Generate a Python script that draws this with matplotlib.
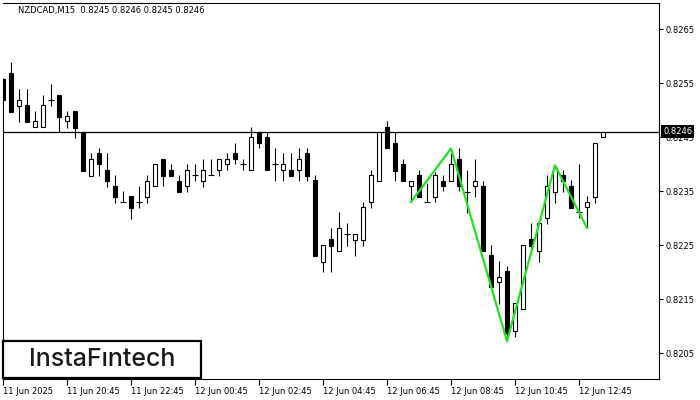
import matplotlib
matplotlib.use("Agg")
import matplotlib.pyplot as plt
import matplotlib.transforms as mtransforms
from matplotlib.patches import Rectangle

# ── Data (NZDCAD M15)
opens = [0.82557, 0.82569, 0.82507, 0.82509, 0.82469, 0.82469, 0.82519, 0.82528, 0.82480, 0.82498,
         0.82459, 0.82378, 0.82420, 0.82389, 0.82359, 0.82330, 0.82341, 0.82330, 0.82339, 0.82359,
         0.82409, 0.82389, 0.82369, 0.82359, 0.82380, 0.82369, 0.82380, 0.82389, 0.82400, 0.82420,
         0.82400, 0.82389, 0.82459, 0.82450, 0.82400, 0.82389, 0.82389, 0.82389, 0.82420, 0.82370,
         0.82219, 0.82261, 0.82239, 0.82270, 0.82259, 0.82259, 0.82330, 0.82369, 0.82469, 0.82439,
         0.82400, 0.82359, 0.82380, 0.82330, 0.82339, 0.82369, 0.82369, 0.82409, 0.82348, 0.82359,
         0.82359, 0.82231, 0.82181, 0.82202, 0.82091, 0.82131, 0.82261, 0.82239, 0.82300, 0.82348,
         0.82380, 0.82359, 0.82311, 0.82320, 0.82339, 0.82450]
highs = [0.82559, 0.82589, 0.82539, 0.82539, 0.82498, 0.82528, 0.82548, 0.82528, 0.82498, 0.82498,
         0.82459, 0.82420, 0.82430, 0.82420, 0.82380, 0.82350, 0.82341, 0.82359, 0.82380, 0.82400,
         0.82409, 0.82400, 0.82380, 0.82400, 0.82400, 0.82409, 0.82409, 0.82409, 0.82420, 0.82439,
         0.82409, 0.82469, 0.82459, 0.82459, 0.82430, 0.82420, 0.82420, 0.82430, 0.82430, 0.82380,
         0.82250, 0.82281, 0.82311, 0.82291, 0.82270, 0.82330, 0.82389, 0.82459, 0.82480, 0.82459,
         0.82409, 0.82369, 0.82389, 0.82365, 0.82385, 0.82380, 0.82420, 0.82430, 0.82389, 0.82409,
         0.82369, 0.82250, 0.82220, 0.82211, 0.82143, 0.82250, 0.82291, 0.82291, 0.82380, 0.82398,
         0.82389, 0.82370, 0.82400, 0.82341, 0.82439, 0.82460]
lows = [0.82519, 0.82496, 0.82478, 0.82478, 0.82469, 0.82469, 0.82507, 0.82459, 0.82467, 0.82448,
        0.82387, 0.82378, 0.82378, 0.82357, 0.82328, 0.82330, 0.82298, 0.82319, 0.82328, 0.82359,
        0.82359, 0.82378, 0.82348, 0.82348, 0.82369, 0.82357, 0.82380, 0.82378, 0.82389, 0.82400,
        0.82389, 0.82389, 0.82430, 0.82389, 0.82369, 0.82369, 0.82378, 0.82369, 0.82369, 0.82230,
        0.82200, 0.82200, 0.82239, 0.82248, 0.82230, 0.82248, 0.82319, 0.82369, 0.82430, 0.82369,
        0.82369, 0.82330, 0.82339, 0.82330, 0.82330, 0.82350, 0.82369, 0.82350, 0.82309, 0.82339,
        0.82239, 0.82172, 0.82141, 0.82078, 0.82080, 0.82131, 0.82243, 0.82219, 0.82289, 0.82328,
        0.82348, 0.82319, 0.82300, 0.82281, 0.82328, 0.82450]
closes = [0.82519, 0.82496, 0.82519, 0.82478, 0.82480, 0.82509, 0.82519, 0.82487, 0.82489, 0.82467,
          0.82387, 0.82409, 0.82400, 0.82369, 0.82339, 0.82330, 0.82319, 0.82330, 0.82369, 0.82400,
          0.82378, 0.82378, 0.82348, 0.82389, 0.82380, 0.82389, 0.82380, 0.82409, 0.82409, 0.82409,
          0.82400, 0.82450, 0.82439, 0.82389, 0.82400, 0.82400, 0.82378, 0.82409, 0.82378, 0.82230,
          0.82250, 0.82248, 0.82281, 0.82270, 0.82270, 0.82320, 0.82380, 0.82459, 0.82430, 0.82387,
          0.82369, 0.82369, 0.82339, 0.82330, 0.82380, 0.82359, 0.82400, 0.82359, 0.82348, 0.82369,
          0.82239, 0.82172, 0.82191, 0.82087, 0.82143, 0.82250, 0.82248, 0.82291, 0.82359, 0.82393,
          0.82369, 0.82319, 0.82311, 0.82330, 0.82439, 0.82460]

x_tick_idx = [0, 8, 16, 24, 32, 40, 48, 56, 64, 72]
x_tick_labels = ["11 Jun 2025", "11 Jun 20:45", "11 Jun 22:45", "12 Jun 00:45", "12 Jun 02:45",
                 "12 Jun 04:45", "12 Jun 06:45", "12 Jun 08:45", "12 Jun 10:45", "12 Jun 12:45"]
y_ticks = [0.8205, 0.8215, 0.8225, 0.8235, 0.8245, 0.8255, 0.8265]

# head & shoulders outline
pattern_idx = [51, 56, 63, 69, 73]
pattern_price = [0.82330, 0.82429, 0.82072, 0.82398, 0.82282]

last_price = 0.8246
title = "NZDCAD,M15  0.8245 0.8246 0.8245 0.8246"

FONT = "DejaVu Sans"
FS = 6

fig = plt.figure(figsize=(7, 4), dpi=100)
ax = fig.add_axes([3 / 700, 21 / 400, 656 / 700, 376 / 400])
ax.set_xlim(0, 82)
ax.set_ylim(0.820019, 0.826987)

# ── Candles
lw = 0.8
for i, (o, h, l, c) in enumerate(zip(opens, highs, lows, closes)):
    ax.vlines(i, l, h, color="black", lw=lw, zorder=2)
    if c == o:
        ax.hlines(o, i - 0.33, i + 0.33, color="black", lw=lw, zorder=3)
        continue
    face = "white" if c > o else "black"
    ax.add_patch(Rectangle((i - 0.28, min(o, c)), 0.56, abs(c - o),
                           facecolor=face, edgecolor="black", lw=lw, zorder=3))

# ── Current price line
ax.axhline(last_price, color="black", lw=0.9, zorder=1)

# ── Pattern line
ax.plot(pattern_idx, pattern_price, color="#22e022", lw=1.6, zorder=5)

# ── Axes styling
for s in ["top", "right", "bottom", "left"]:
    ax.spines[s].set_linewidth(0.8)
ax.spines["left"].set_bounds(0.820019, opens[0])

ax.yaxis.tick_right()
ax.set_yticks(y_ticks)
ax.set_yticklabels([f"{v:.4f}" for v in y_ticks], fontsize=FS, family=FONT)
ax.tick_params(axis="y", direction="out", length=3, width=0.8, pad=2)

ax.set_xticks(x_tick_idx)
ax.set_xticklabels(x_tick_labels, fontsize=FS, family=FONT, ha="left")
ax.tick_params(axis="x", direction="out", length=4, width=0.8, pad=2)

# price marker box
trans = mtransforms.blended_transform_factory(ax.transAxes, ax.transData)
ax.text(1.0 + 4 / 656, last_price, f"{last_price:.4f}", transform=trans,
        fontsize=FS, family=FONT, color="white", va="center", ha="left",
        bbox=dict(facecolor="black", edgecolor="none", pad=1.3), zorder=10, clip_on=False)

# ── Title
fig.text(18 / 700, (400 - 10.5) / 400, title, fontsize=FS, family=FONT,
         color="black", va="center", ha="left")

# ── Logo box
fig.add_artist(Rectangle((3 / 700, 22 / 400), 198 / 700, 37 / 400, transform=fig.transFigure,
                         facecolor="white", edgecolor="black", lw=1.6, zorder=20))
fig.text(102 / 700, (400 - 359) / 400, "InstaF\u0131ntech", fontsize=18, family="Inter",
         weight="medium", color="#1a1a1a", ha="center", va="center", zorder=21)

fig.savefig("out.png", dpi=100)
